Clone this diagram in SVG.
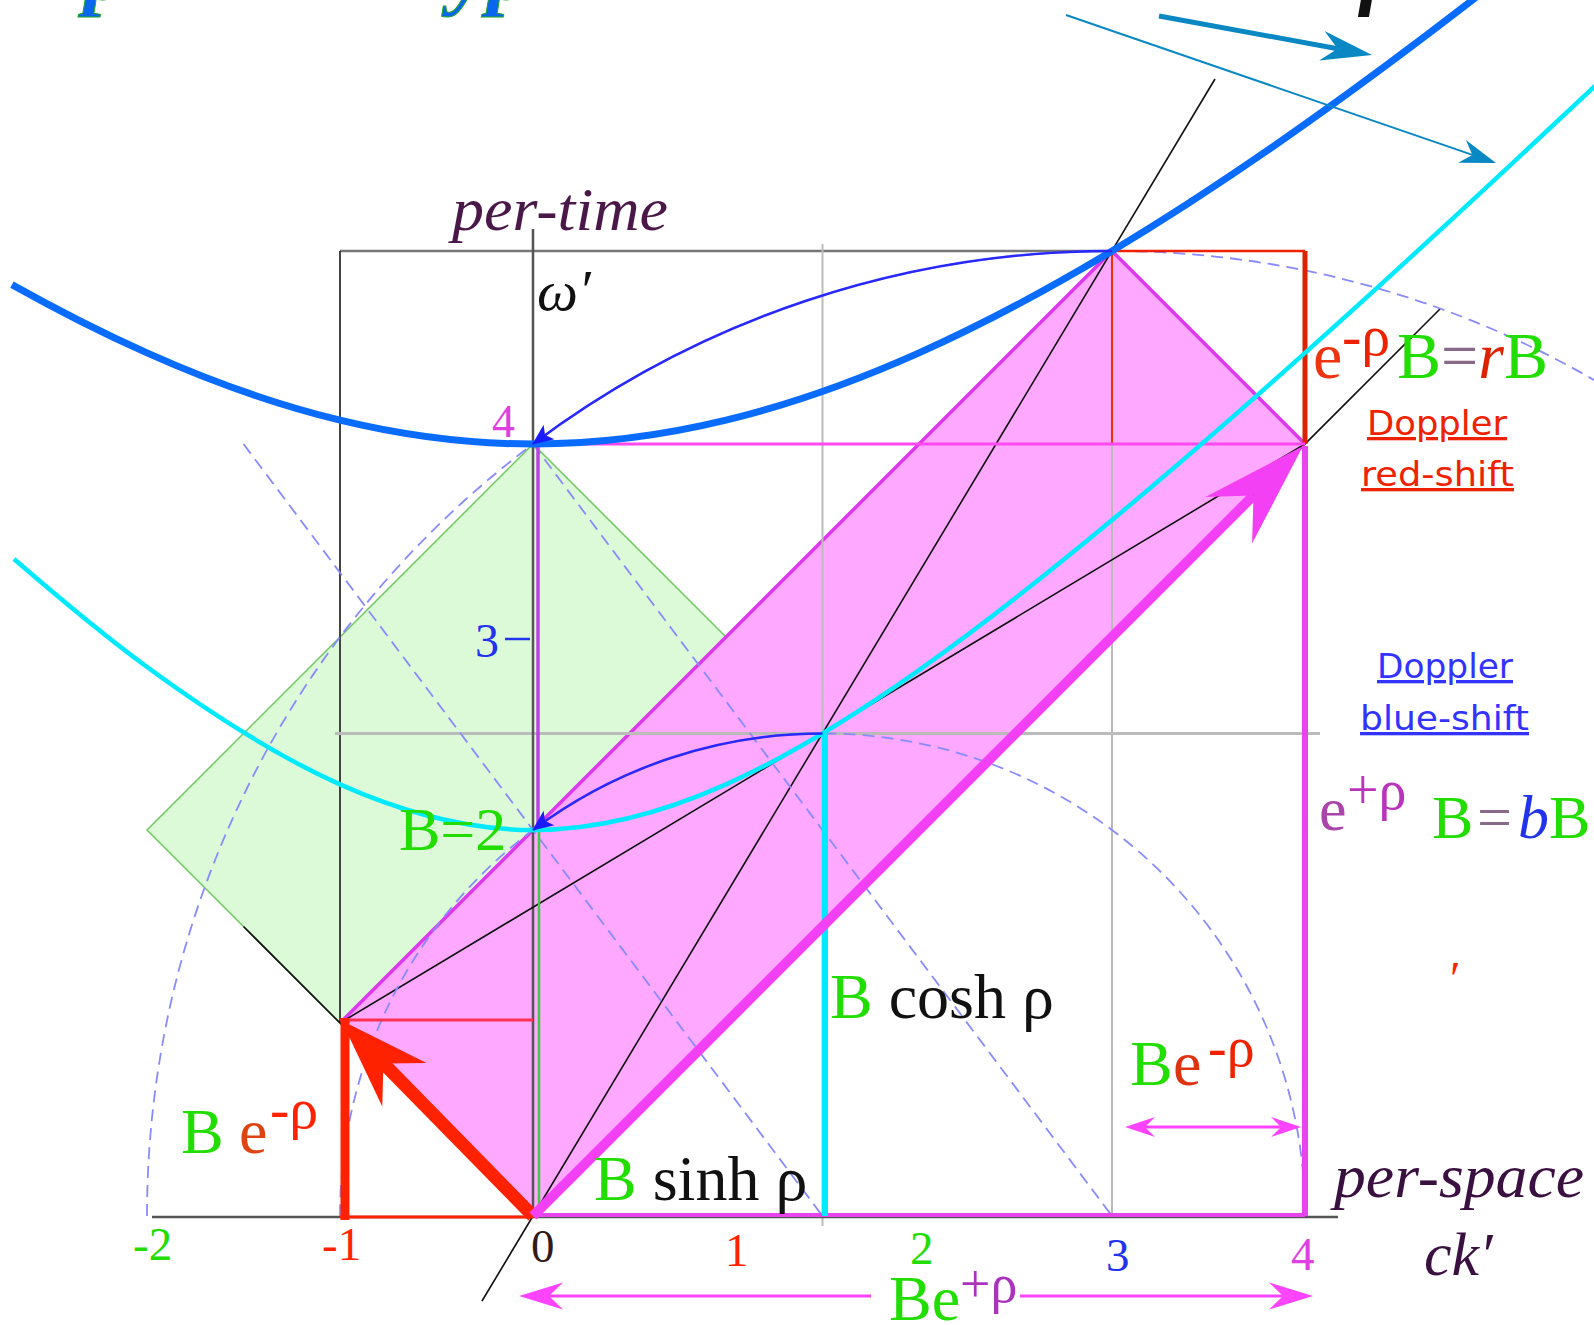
<svg xmlns="http://www.w3.org/2000/svg" width="1594" height="1325" viewBox="0 0 1594 1325">
<style>
.serif{font-family:"Liberation Serif","Times New Roman",serif}
.sans{font-family:"DejaVu Sans","Liberation Sans",sans-serif}
.it{font-style:italic}
.g{fill:#22dd00}
.dash{fill:none;stroke:#8a8aff;stroke-width:1.8;stroke-dasharray:12 7}
.grid{fill:none;stroke:#bbbbbb;stroke-width:2}
.dark{fill:none;stroke:#555555;stroke-width:2.5}
.blk{fill:none;stroke:#111111;stroke-width:1.6}
.num{font-family:"Liberation Serif","Times New Roman",serif;font-size:47px}
.lbl{font-family:"Liberation Serif","Times New Roman",serif;font-size:64px}
.ul{text-decoration:underline}
</style>
<defs>
<marker id="ahRed" markerUnits="userSpaceOnUse" markerWidth="10" markerHeight="10" overflow="visible" orient="auto" refX="0" refY="0"><path d="M60,0 L-30,-31 L0,0 L-30,31 Z" fill="#ff2200"/></marker>
<marker id="ahMag" markerUnits="userSpaceOnUse" markerWidth="10" markerHeight="10" overflow="visible" orient="auto" refX="0" refY="0"><path d="M70,0 L-35,-33 L0,0 L-35,33 Z" fill="#f440f4"/></marker>
<marker id="ahMagS" markerUnits="userSpaceOnUse" markerWidth="10" markerHeight="10" overflow="visible" orient="auto-start-reverse" refX="0" refY="0"><path d="M20,0 L-10,-10 L0,0 L-10,10 Z" fill="#ff44ff"/></marker>
<marker id="ahMagM" markerUnits="userSpaceOnUse" markerWidth="10" markerHeight="10" overflow="visible" orient="auto-start-reverse" refX="0" refY="0"><path d="M30,0 L-14,-13.5 L0,0 L-14,13.5 Z" fill="#ff44ff"/></marker>
<marker id="ahTeal" markerUnits="userSpaceOnUse" markerWidth="10" markerHeight="10" overflow="visible" orient="auto" refX="0" refY="0"><path d="M35,0 L-16,-15 L0,0 L-16,15 Z" fill="#0a88c4"/></marker>
<marker id="ahTealS" markerUnits="userSpaceOnUse" markerWidth="10" markerHeight="10" overflow="visible" orient="auto" refX="0" refY="0"><path d="M25,0 L-11,-12 L0,0 L-11,12 Z" fill="#0a88c4"/></marker>
<marker id="ahBlue" markerUnits="userSpaceOnUse" markerWidth="10" markerHeight="10" overflow="visible" orient="auto" refX="0" refY="0"><path d="M1,0 L-20,-9 L-15,0 L-20,9 Z" fill="#1a1aff"/></marker>
</defs>
<rect width="1594" height="1325" fill="#ffffff"/>

<g id="title-fragments" class="serif" font-weight="bold" font-style="italic" font-size="84">
<text x="84" y="-1" fill="#0a66ee" stroke="#22aa22" stroke-width="1">p</text>
<text x="450" y="-1" fill="#0a66ee" stroke="#22aa22" stroke-width="1">yp</text>
<text x="1360" y="-1" fill="#111111">ρ</text>
</g>

<g id="green-square">
<polygon points="533,444 147,830 533,1216 919,830" fill="#dcfad8" stroke="#70c860" stroke-width="1.5"/>
</g>

<g id="magenta-band">
<polygon points="340,1023 1112,251 1305,444 533,1216" fill="#ffa8ff"/>
<path d="M340,1023 L1112,251 L1305,444" fill="none" stroke="#dd38ee" stroke-width="3.5"/>
</g>

<g id="grid">
<line x1="340" y1="251" x2="1112" y2="251" stroke="#777777" stroke-width="2.5"/>
<line x1="340" y1="251" x2="340" y2="1023" stroke="#444444" stroke-width="2"/>
<line class="grid" x1="822.5" y1="244" x2="822.5" y2="1226"/>
<line class="grid" x1="1112" y1="251" x2="1112" y2="1216"/>
<line x1="335" y1="733.5" x2="1320" y2="733.5" stroke="#bbbbbb" stroke-width="3"/>
<line class="dark" x1="533" y1="229" x2="533" y2="1216"/>
<line class="dark" x1="152" y1="1217" x2="1338" y2="1217" stroke-width="3"/>
</g>

<g id="black-lines">
<line class="blk" x1="482" y1="1301" x2="1215" y2="79"/>
<line class="blk" x1="340" y1="1023" x2="1305" y2="444"/>
<line class="blk" x1="533" y1="1216" x2="1440" y2="309"/>
<line class="blk" x1="533" y1="1216" x2="243.5" y2="926.5"/>
</g>

<g id="dashed">
<path class="dash" d="M340,1216 A482.5,482.5 0 0,1 1305,1216"/>
<path class="dash" d="M147,1216 A965,965 0 0,1 2077,1216"/>
<line class="dash" x1="243.5" y1="444" x2="822.5" y2="1216"/>
<line class="dash" x1="533" y1="444" x2="1112" y2="1216"/>
</g>

<g id="rectangles">
<line x1="340" y1="1020" x2="533" y2="1020" stroke="#ff3050" stroke-width="3"/>
<line x1="340" y1="1217" x2="533" y2="1217" stroke="#ff2200" stroke-width="3"/>
<line x1="345" y1="1018" x2="345" y2="1220" stroke="#ff2200" stroke-width="9"/>
<line x1="1112" y1="251" x2="1305" y2="251" stroke="#ee2200" stroke-width="2.5"/>
<line x1="1112" y1="251" x2="1112" y2="444" stroke="#ee3300" stroke-width="2"/>
<line x1="1305" y1="251" x2="1305" y2="444" stroke="#dd2200" stroke-width="5"/>
<line x1="533" y1="444" x2="1305" y2="444" stroke="#ff48f0" stroke-width="3"/>
<line x1="1305" y1="446" x2="1305" y2="1216" stroke="#e844ee" stroke-width="6"/>
<line x1="533" y1="1215" x2="1305" y2="1215" stroke="#e844ee" stroke-width="4"/>
<line x1="538" y1="444" x2="538" y2="830" stroke="#c040e8" stroke-width="3.5"/>
<line x1="539" y1="830" x2="539" y2="1214" stroke="#40c840" stroke-width="2.5"/>
<line x1="825" y1="733.5" x2="825" y2="1216" stroke="#00eaff" stroke-width="6"/>
</g>

<g id="hyperbolas" fill="none">
<path d="M11.9,284.6 C56.9,309.8 102,332.8 147,352.9 C211.3,381.7 275.7,404.6 340,420.2 C404.3,435.8 468.7,444 533,444 C597.3,444 661.7,435.8 726,420.2 C790.3,404.6 854.7,381.7 919,352.9 C983.3,324.1 1047.7,289.6 1112,251 C1176.3,212.4 1240.7,169.7 1305,124.2 C1362.9,83.25 1420.8,40.05 1478.7,-4.8" stroke="#0a6cff" stroke-width="7"/>
<path d="M14,559 C58,597 102,634 147,667 C211.3,714 275.7,755.6 340,784.4 C404.3,813.2 468.7,830 533,830 C597.3,830 661.7,813.2 726,784.4 C790.3,755.6 854.7,715.6 919,670.1 C983.3,624.6 1047.7,573.6 1112,520.1 C1176.3,466.6 1240.7,410.4 1305,352.9 C1369.3,295.4 1433.7,236.4 1498,176.7 C1536.6,140.9 1575.2,104.6 1613.8,68.3" stroke="#00eaff" stroke-width="4.5"/>
</g>

<g id="connectors" fill="none">
<path d="M1112,251 A965,965 0 0,0 533,444" stroke="#2828ff" stroke-width="2.5" marker-end="url(#ahBlue)"/>
<path d="M822.5,733.5 A482.5,482.5 0 0,0 533,830" stroke="#2828ff" stroke-width="2.5" marker-end="url(#ahBlue)"/>
<line x1="533" y1="1216" x2="383.4" y2="1063.4" stroke="#ff2200" stroke-width="13" marker-end="url(#ahRed)"/>
<line x1="533" y1="1216" x2="1253.5" y2="495.5" stroke="#f440f4" stroke-width="10" marker-end="url(#ahMag)"/>
<line x1="1159" y1="16" x2="1337.6" y2="48.7" stroke="#0a88c4" stroke-width="5" marker-end="url(#ahTeal)"/>
<line x1="1066" y1="15" x2="1472.4" y2="154.9" stroke="#0a88c4" stroke-width="2" marker-end="url(#ahTealS)"/>
<line x1="1145" y1="1127" x2="1281" y2="1127" stroke="#ff44ff" stroke-width="3" marker-start="url(#ahMagS)" marker-end="url(#ahMagS)"/>
<line x1="549" y1="1296" x2="871" y2="1296" stroke="#ff44ff" stroke-width="3" marker-start="url(#ahMagM)"/>
<line x1="1020" y1="1296" x2="1283" y2="1296" stroke="#ff44ff" stroke-width="3" marker-end="url(#ahMagM)"/>
<line x1="505" y1="639" x2="530" y2="639" stroke="#2233ee" stroke-width="2.5"/>
</g>

<g id="axis-titles" class="serif it" font-size="62" fill="#4a1848">
<text x="452" y="230" textLength="216" lengthAdjust="spacingAndGlyphs">per-time</text>
<text x="537" y="310" font-size="58" fill="#111111">ω′</text>
<text x="1334" y="1197" fill="#3a1040" textLength="250" lengthAdjust="spacingAndGlyphs">per-space</text>
<text x="1424" y="1275" fill="#3a1040">ck′</text>
</g>

<g id="tick-labels" class="num">
<text x="492" y="437" font-size="46" fill="#e040e0">4</text>
<text x="475" y="657" font-size="48" fill="#2233ee">3</text>
<text x="133" y="1260" fill="#22dd00">-2</text>
<text x="322" y="1260" fill="#ff2200">-1</text>
<text x="531" y="1262" fill="#331a1a">0</text>
<text x="725" y="1266" fill="#ff2200">1</text>
<text x="910" y="1264" fill="#22dd00">2</text>
<text x="1106" y="1271" fill="#2233ee">3</text>
<text x="1291" y="1270" fill="#e040e0">4</text>
</g>

<g id="formula-labels" class="lbl">
<text x="399" y="850" font-size="62" class="g">B=2</text>
<text y="1153"><tspan x="181" class="g">B</tspan><tspan x="239" fill="#dd4411">e</tspan><tspan x="270" y="1128" font-size="58" fill="#ff2200">-ρ</tspan></text>
<text y="1085"><tspan x="1130" class="g">B</tspan><tspan x="1173" fill="#dd3311">e</tspan><tspan x="1208" y="1066" font-size="56" fill="#ee2200">-ρ</tspan></text>
<text x="594" y="1200"><tspan class="g">B</tspan><tspan fill="#111111"> sinh ρ</tspan></text>
<text x="830" y="1018"><tspan class="g">B</tspan><tspan fill="#111111"> cosh ρ</tspan></text>
<text y="1320"><tspan x="889" class="g">Be</tspan><tspan x="960" y="1302" font-size="54" fill="#aa33bb">+ρ</tspan></text>
<text y="378" font-size="66"><tspan x="1313" fill="#ee3311">e</tspan><tspan x="1342" y="355" font-size="58" fill="#ee2200">-ρ</tspan><tspan x="1397" y="378" class="g">B</tspan><tspan fill="#886a88">=</tspan><tspan class="it" fill="#dd2200">r</tspan><tspan class="g">B</tspan></text>
<text y="838" font-size="62"><tspan x="1319" y="830" fill="#aa44aa">e</tspan><tspan x="1347" y="809" font-size="56" fill="#bb33bb">+ρ</tspan><tspan x="1432" y="838" class="g">B</tspan><tspan x="1477" fill="#886a88">=</tspan><tspan x="1518" class="it" fill="#2233ee">b</tspan><tspan x="1549" class="g">B</tspan></text>
<text x="1450" y="995" font-size="48" fill="#ff2200">′</text>
</g>

<g id="doppler-labels" class="sans" font-size="33">
<text class="ul" x="1367" y="435" fill="#ee2200" textLength="140" lengthAdjust="spacingAndGlyphs">Doppler</text>
<text class="ul" x="1361" y="486" fill="#ee2200" textLength="153" lengthAdjust="spacingAndGlyphs">red-shift</text>
<text class="ul" x="1377" y="678" fill="#3333ff" textLength="136" lengthAdjust="spacingAndGlyphs">Doppler</text>
<text class="ul" x="1360" y="730" fill="#3333ff" textLength="169" lengthAdjust="spacingAndGlyphs">blue-shift</text>
</g>
</svg>
